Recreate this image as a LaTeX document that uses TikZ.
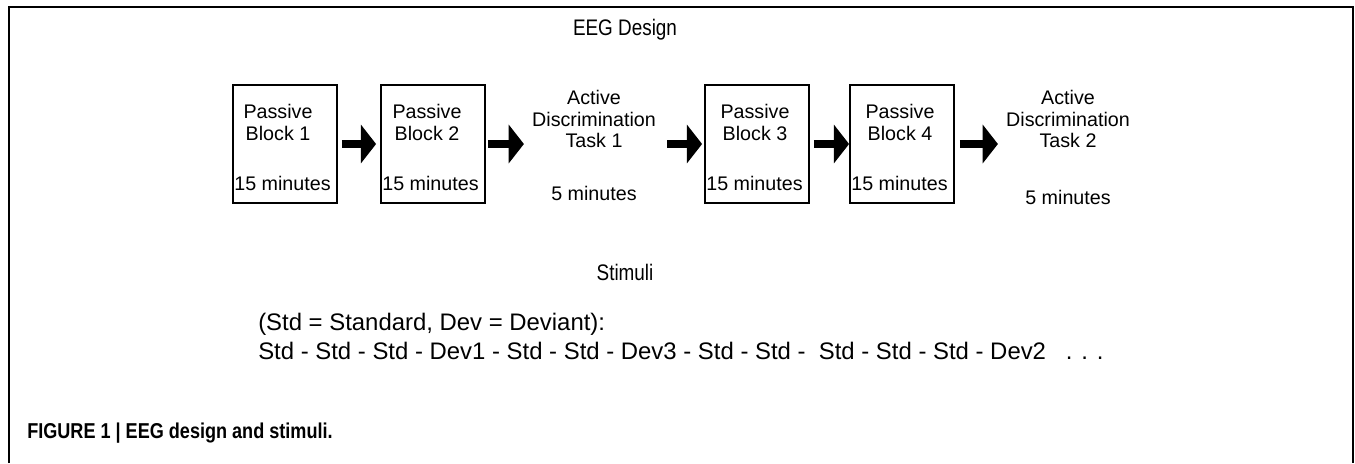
\documentclass[tikz,border=0pt]{standalone}
\usepackage{fontspec}
\setmainfont{Liberation Sans}
\newfontfamily\narrowsans[FakeStretch=0.84]{Liberation Sans}
\usetikzlibrary{arrows.meta,positioning}

\tikzset{
  blk/.style={draw,line width=1.3pt,minimum width=104*0.025cm,minimum height=118*0.025cm,inner sep=0pt},
  blktxt/.style={align=center,font=\fontsize{14}{15.5}\selectfont,inner sep=0pt},
  acttxt/.style={align=center,font=\fontsize{14}{15.5}\selectfont,inner sep=0pt},
  bigarr/.style={line width=0.2cm,-{Triangle[length=0.38cm,width=0.95cm]}},
  heading/.style={font=\narrowsans\fontsize{16}{19}\selectfont,inner sep=0pt},
  stim/.style={font=\fontsize{17}{20}\selectfont,inner sep=0pt,anchor=west}
}

\begin{document}
\begin{tikzpicture}[x=0.025cm,y=-0.025cm]
      \useasboundingbox (0,0) rectangle (1355,463);

      % frame, open at the bottom
      \draw[line width=0.9pt] (9,463) -- (9,7) -- (1353,7) -- (1353,463);

      \node[heading] (title) at (625,30) {EEG Design};

      %% the four passive blocks
      \node[blk] (b1) at (285,144) {};
      \node[blk] (b2) at (433,144) {};
      \node[blk] (b3) at (757,144) {};
      \node[blk] (b4) at (902,144) {};

      \node[blktxt,below=20*0.025cm of b1.north,xshift=-7*0.025cm] (b1t) {Passive\\Block 1};
      \node[blktxt,below=20*0.025cm of b2.north,xshift=-6*0.025cm] (b2t) {Passive\\Block 2};
      \node[blktxt,below=20*0.025cm of b3.north,xshift=-2*0.025cm] (b3t) {Passive\\Block 3};
      \node[blktxt,below=20*0.025cm of b4.north,xshift=-2*0.025cm] (b4t) {Passive\\Block 4};

      \node[blktxt,anchor=south west] (b1m) at ([shift={(2,-13)}]b1.south west) {15 minutes};
      \node[blktxt,anchor=south west] (b2m) at ([shift={(2,-13)}]b2.south west) {15 minutes};
      \node[blktxt,anchor=south west] (b3m) at ([shift={(2,-13)}]b3.south west) {15 minutes};
      \node[blktxt,anchor=south west] (b4m) at ([shift={(2,-13)}]b4.south west) {15 minutes};

      %% the two active tasks
      \node[acttxt] (a1) at (594,119) {Active\\Discrimination\\Task 1};
      \node[acttxt] (a1m) at (594,193) {5 minutes};
      \node[acttxt] (a2) at (1068,119) {Active\\Discrimination\\Task 2};
      \node[acttxt] (a2m) at (1068,197) {5 minutes};

      % arrows between them
      \draw[bigarr,shorten <=4*0.025cm,shorten >=4*0.025cm] (b1.east) -- (b2.west);
      \draw[bigarr,shorten <=2*0.025cm,shorten >=8*0.025cm] (b2.east) -- (a1.west |- b2.east);
      \draw[bigarr,shorten <=11*0.025cm,shorten >=2*0.025cm] (a1.east |- b3.west) -- (b3.west);
      \draw[bigarr,shorten <=4*0.025cm] (b3.east) -- (b4.west);
      \draw[bigarr,shorten <=5*0.025cm,shorten >=8*0.025cm] (b4.east) -- (a2.west |- b4.east);

      %% stimuli
      \node[heading] (stitle) at (625,272) {Stimuli};
      \node[stim] (legend) at (258,324) {(Std = Standard, Dev = Deviant):};
      \node[stim] (seq) at (258,351) {Std - Std - Std - Dev1 - Std - Std - Dev3 - Std - Std -\ \ Std - Std - Std - Dev2\ \ \ . . .};

      \node[anchor=west,inner sep=0pt,font=\narrowsans\bfseries\fontsize{15.3}{18}\selectfont] (cap) at (27,433) {FIGURE 1 | EEG design and stimuli.};
\end{tikzpicture}
\end{document}
